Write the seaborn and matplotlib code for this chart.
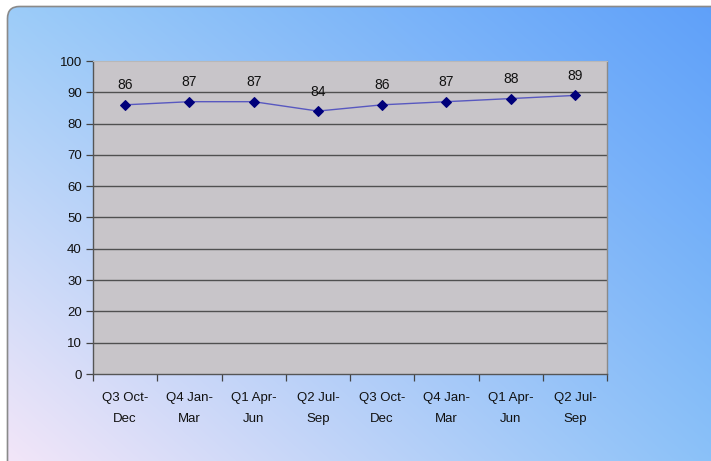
import numpy as np
import pandas as pd
import matplotlib
matplotlib.use("Agg")
import matplotlib.pyplot as plt
from matplotlib.patches import FancyBboxPatch
from matplotlib.ticker import FixedLocator
import seaborn as sns

quarters = ["Q3 Oct-\nDec", "Q4 Jan-\nMar", "Q1 Apr-\nJun", "Q2 Jul-\nSep",
            "Q3 Oct-\nDec", "Q4 Jan-\nMar", "Q1 Apr-\nJun", "Q2 Jul-\nSep"]
scores = [86, 87, 87, 84, 86, 87, 88, 89]
y_ticks = [0, 10, 20, 30, 40, 50, 60, 70, 80, 90, 100]

sns.set_theme(style="white")
plt.rcParams["font.family"] = ["Liberation Sans", "DejaVu Sans"]

W, H = 711, 461
fig = plt.figure(figsize=(W / 100, H / 100), dpi=100)
fig.patch.set_facecolor("white")

# gradient backdrop panel with rounded corner
bg = fig.add_axes([0, 0, 1, 1])
bg.set_xlim(0, W)
bg.set_ylim(H, 0)
bg.axis("off")
tl = np.array([156, 204, 248])
tr = np.array([92, 158, 250])
bl = np.array([250, 232, 248])
br = np.array([136, 194, 248])
u = np.linspace(0, 1, 200)[None, :, None]
v = np.linspace(0, 1, 140)[:, None, None]
grad = (tl * (1 - u) * (1 - v) + tr * u * (1 - v) + bl * (1 - u) * v + br * u * v) / 255
panel = FancyBboxPatch((7.5, 6.5), W + 40, H + 40,
                       boxstyle="round,pad=0,rounding_size=12",
                       facecolor="none", edgecolor="#8a8a8a", linewidth=1.2)
bg.add_patch(panel)
img = bg.imshow(grad, extent=(7.5, W + 40, H + 40, 6.5), aspect="auto",
                interpolation="bilinear", zorder=0)
img.set_clip_path(panel)

# plot area
L, R, T, B = 93, 607, 61, 374
ax = fig.add_axes([L / W, (H - B) / H, (R - L) / W, (B - T) / H])
ax.set_facecolor("#c8c5c9")

df = pd.DataFrame({"pos": np.arange(len(scores)), "score": scores})
sns.lineplot(data=df, x="pos", y="score", ax=ax, color="#5858c0", linewidth=1.0,
             marker="D", markersize=5.5, markerfacecolor="#00007a",
             markeredgecolor="#00007a", zorder=3)

for xi, val in zip(df["pos"], df["score"]):
    ax.annotate(str(val), (xi, val), xytext=(0, 9), textcoords="offset points",
                ha="center", va="bottom", fontsize=10, color="#111111")

ax.set_xlim(-0.5, len(scores) - 0.5)
ax.set_ylim(0, 100)
ax.set_yticks(y_ticks)
ax.set_xticks(df["pos"])
ax.set_xticklabels(quarters, fontsize=9.5, color="#111111", linespacing=2.0)
ax.tick_params(axis="y", labelsize=9.5, labelcolor="#111111", length=5,
               width=0.9, color="#444444", left=True, direction="out", pad=3)
ax.tick_params(axis="x", which="major", length=0, pad=13)
ax.xaxis.set_minor_locator(FixedLocator(np.arange(-0.5, len(scores), 1.0)))
ax.tick_params(axis="x", which="minor", bottom=True, length=5, width=0.9,
               color="#444444", direction="out")
ax.set_xlabel("")
ax.set_ylabel("")

ax.grid(False)
for yv in y_ticks[1:-1]:
    ax.axhline(yv, color="#505050", linewidth=1.0, zorder=1)

for side in ["left", "bottom"]:
    ax.spines[side].set_color("#555555")
    ax.spines[side].set_linewidth(1.0)
ax.spines["right"].set_color("#8a8a8a")
ax.spines["right"].set_linewidth(1.0)
ax.spines["top"].set_color("#b8b8b8")
ax.spines["top"].set_linewidth(0.8)

fig.savefig("out.png", dpi=100)
